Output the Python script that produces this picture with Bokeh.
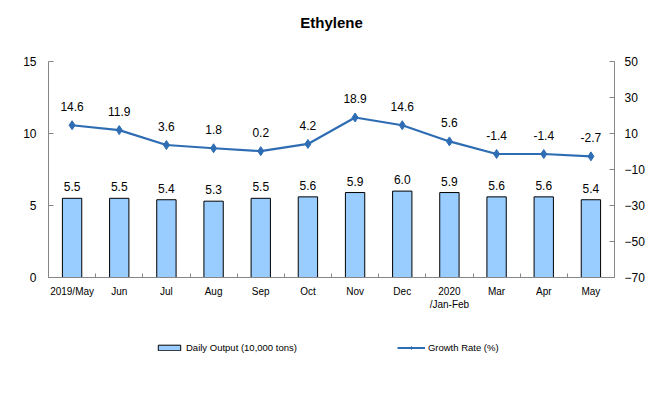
from bokeh.plotting import figure
from bokeh.layouts import column
from bokeh.models import (LinearAxis, Range1d, FixedTicker, ColumnDataSource, LabelSet,
                          Legend, LegendItem, Label)
from bokeh.core.properties import value
from bokeh.embed import file_html
from bokeh.resources import INLINE

title_text = "Ethylene"
categories = ["2019/May", "Jun", "Jul", "Aug", "Sep", "Oct", "Nov", "Dec",
              "2020\n/Jan-Feb", "Mar", "Apr", "May"]
daily_output = [5.5, 5.5, 5.4, 5.3, 5.5, 5.6, 5.9, 6.0, 5.9, 5.6, 5.6, 5.4]
growth_rate = [14.6, 11.9, 3.6, 1.8, 0.2, 4.2, 18.9, 14.6, 5.6, -1.4, -1.4, -2.7]
left_ticks = [0, 5, 10, 15]
right_ticks = [-70, -50, -30, -10, 10, 30, 50]

FONT = "Liberation Sans"
AXIS_COLOR = "#868686"
BAR_COLOR = "#99CCFF"
LINE_COLOR = "#2E6DB4"

xs = list(range(1, len(categories) + 1))
src = ColumnDataSource(dict(
    x=xs, out=daily_output, rate=growth_rate,
    out_lbl=[f"{v:.1f}" for v in daily_output],
    rate_lbl=[f"{v:.1f}" for v in growth_rate],
))

# title strip
tf = figure(width=657, height=36, output_backend="svg", toolbar_location=None,
            x_axis_location=None, y_axis_location=None, min_border=0,
            x_range=Range1d(0, 1), y_range=Range1d(0, 1))
tf.outline_line_color = None
tf.xgrid.grid_line_color = None
tf.ygrid.grid_line_color = None
tf.add_layout(Label(x=0.5, y=14, y_units="screen", text=title_text, text_align="center",
                    text_baseline="middle", text_font=FONT, text_font_size="15px",
                    text_font_style="bold", text_color="black"))

p = figure(frame_width=566, frame_height=216, output_backend="svg", toolbar_location=None,
           x_range=Range1d(0.5, len(categories) + 0.5), y_range=Range1d(0, 15),
           min_border_left=48, min_border_right=43, min_border_top=25, min_border_bottom=50)
p.outline_line_color = None
p.xgrid.grid_line_color = None
p.ygrid.grid_line_color = None
p.extra_y_ranges = {"rate": Range1d(-70, 50)}

p.vbar(x="x", top="out", width=0.41, source=src, fill_color=BAR_COLOR,
       line_color="black", line_width=1)
p.line(x="x", y="rate", source=src, y_range_name="rate", line_color=LINE_COLOR,
       line_width=2.2)
p.scatter(x="x", y="rate", source=src, y_range_name="rate", marker="diamond",
          size=9, fill_color=LINE_COLOR, line_color=LINE_COLOR)

p.add_layout(LabelSet(x="x", y="out", text="out_lbl", source=src, y_offset=7,
                      text_align="center", text_baseline="bottom", text_font=value(FONT),
                      text_font_size=value("12px"), text_color="black"))
p.add_layout(LabelSet(x="x", y="rate", text="rate_lbl", source=src, y_offset=14,
                      text_align="center", text_baseline="bottom", text_font=value(FONT),
                      text_font_size=value("12px"), text_color="black", y_range_name="rate"))

# x axis
xa = p.xaxis[0]
xa.ticker = FixedTicker(ticks=xs, minor_ticks=[i + 0.5 for i in range(len(categories) + 1)])
xa.major_label_overrides = {i + 1: c for i, c in enumerate(categories)}
xa.major_tick_in = 0
xa.major_tick_out = 0
xa.minor_tick_in = 4
xa.minor_tick_out = 0
xa.minor_tick_line_color = AXIS_COLOR
xa.axis_line_color = AXIS_COLOR
xa.major_label_text_font = FONT
xa.major_label_text_font_size = "10px"
xa.major_label_text_color = "black"
xa.major_label_standoff = 8

# left axis
ya = p.yaxis[0]
ya.ticker = FixedTicker(ticks=left_ticks)
ya.minor_tick_line_color = None
ya.major_tick_in = 5
ya.major_tick_out = 0
ya.major_tick_line_color = AXIS_COLOR
ya.axis_line_color = AXIS_COLOR
ya.major_label_text_font = FONT
ya.major_label_text_font_size = "12px"
ya.major_label_text_color = "black"
ya.major_label_standoff = 12

# right axis
ra = LinearAxis(y_range_name="rate", ticker=FixedTicker(ticks=right_ticks))
ra.minor_tick_line_color = None
ra.major_tick_in = 5
ra.major_tick_out = 0
ra.major_tick_line_color = AXIS_COLOR
ra.axis_line_color = AXIS_COLOR
ra.major_label_text_font = FONT
ra.major_label_text_font_size = "12px"
ra.major_label_text_color = "black"
ra.major_label_standoff = 10
p.add_layout(ra, "right")

# legend strip: hidden renderers of the same data feed the legend glyphs
lf = figure(width=657, height=50, output_backend="svg", toolbar_location=None,
            x_axis_location=None, y_axis_location=None, min_border=0,
            x_range=Range1d(0, 1), y_range=Range1d(0, 1))
lf.outline_line_color = None
lf.xgrid.grid_line_color = None
lf.ygrid.grid_line_color = None
lb = lf.vbar(x="x", top="out", width=0.4, source=src, fill_color=BAR_COLOR,
             line_color="black", line_width=1, visible=False)
ll = lf.line(x="x", y="rate", source=src, line_color=LINE_COLOR, line_width=2,
             visible=False)
lm = lf.scatter(x="x", y="rate", source=src, marker="diamond", size=5,
                fill_color=LINE_COLOR, line_color=LINE_COLOR, visible=False)
legend = Legend(items=[LegendItem(label="Daily Output (10,000 tons)", renderers=[lb]),
                       LegendItem(label="Growth Rate (%)", renderers=[ll, lm])],
                location=(107, 24), orientation="horizontal", background_fill_alpha=0,
                border_line_color=None, label_text_font=FONT, label_text_font_size="9.5px",
                label_text_color="black", glyph_width=28, glyph_height=7, label_standoff=3,
                padding=0, margin=0, spacing=100, inactive_fill_alpha=0)
lf.add_layout(legend, "center")

open("out.html", "w").write(file_html(column(tf, p, lf, spacing=0), INLINE))
